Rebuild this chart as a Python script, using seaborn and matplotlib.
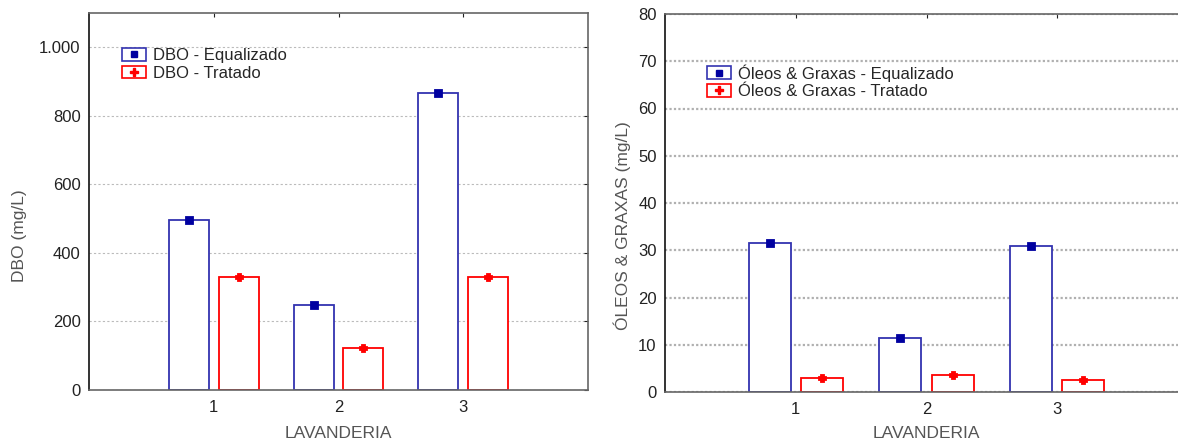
import matplotlib
matplotlib.use("Agg")
import matplotlib.pyplot as plt
from matplotlib.patches import Patch
from matplotlib.lines import Line2D
from matplotlib.ticker import FuncFormatter
import seaborn as sns
import pandas as pd

lavanderias = ["1", "2", "3"]
amostras = ["Equalizado", "Tratado"]
dbo_equalizado = [497, 247, 867]
dbo_tratado = [330, 124, 330]
og_equalizado = [31.5, 11.5, 31.0]
og_tratado = [3.0, 3.5, 2.5]

AZUL = "#3333b0"
AZUL_MARCA = "#0000a0"
VERMELHO = "#ff0000"
CINZA = "#555555"

sns.set_style("white")
plt.rcParams["font.family"] = ["Liberation Sans", "DejaVu Sans"]


def monta_df(eq, tr):
    return pd.DataFrame({
        "lav": lavanderias * 2,
        "valor": list(eq) + list(tr),
        "amostra": [amostras[0]] * 3 + [amostras[1]] * 3,
    })


def painel(ax, df, ylim, yticks, ylabel, rotulos, grid_kw, leg_pos, xpad,
           ylab_xy, fmt=None):
    ax.set_axisbelow(True)
    ax.yaxis.grid(True, **grid_kw)
    sns.barplot(data=df, x="lav", y="valor", hue="amostra", order=lavanderias,
                hue_order=amostras, palette=[AZUL, VERMELHO], fill=False,
                width=0.8, gap=0.2, linewidth=1.3, errorbar=None,
                legend=False, ax=ax)
    for p in ax.patches:
        p.set_facecolor("white")
        p.set_zorder(2)
    sns.pointplot(data=df, x="lav", y="valor", hue="amostra", order=lavanderias,
                  hue_order=amostras, palette=[AZUL_MARCA, VERMELHO],
                  markers=["s", "P"], markersize=5, linestyle="none",
                  dodge=0.4, errorbar=None, legend=False, ax=ax, zorder=4)
    ax.set_xlim(-1, 3)
    ax.set_ylim(*ylim)
    ax.set_yticks(yticks)
    if fmt:
        ax.yaxis.set_major_formatter(FuncFormatter(fmt))
    ax.set_xlabel("LAVANDERIA", color=CINZA, fontsize=12.5, labelpad=xpad)
    ax.set_ylabel(ylabel, color=CINZA, fontsize=12.5)
    ax.yaxis.set_label_coords(*ylab_xy)
    ax.tick_params(axis="both", direction="in", length=3, width=0.8,
                   top=True, right=True, labelsize=12, colors="#222222")
    ax.tick_params(axis="x", pad=7)
    ax.tick_params(axis="y", pad=6)
    for lado, s in ax.spines.items():
        s.set_visible(True)
        s.set_linewidth(1.2)
        s.set_color("#111111" if lado == "left" else "#666666")
        s.set_zorder(5)
    handles = [
        (Patch(facecolor="white", edgecolor=AZUL, linewidth=1.2),
         Line2D([], [], marker="s", color=AZUL_MARCA, linestyle="none", markersize=5)),
        (Patch(facecolor="white", edgecolor=VERMELHO, linewidth=1.2),
         Line2D([], [], marker="P", color=VERMELHO, linestyle="none", markersize=5.5)),
    ]
    ax.legend(handles, rotulos, loc="upper left", bbox_to_anchor=leg_pos,
              frameon=False, fontsize=12, handlelength=1.45, handleheight=0.8,
              handletextpad=0.4, labelspacing=0.15, borderaxespad=0)


fig = plt.figure(figsize=(11.78, 4.41), dpi=100)
ax1 = fig.add_axes([89 / 1178, 51 / 441, 499 / 1178, 377 / 441])
ax2 = fig.add_axes([665 / 1178, 49 / 441, 523 / 1178, 378 / 441])

painel(ax1, monta_df(dbo_equalizado, dbo_tratado), (0, 1100),
       range(0, 1001, 200), "DBO (mg/L)",
       ["DBO - Equalizado", "DBO - Tratado"],
       dict(color="#bbbbbb", linestyle=(0, (2, 2)), linewidth=0.8),
       (0.053, 0.925), xpad=8, ylab_xy=(-0.124, 0.41),
       fmt=lambda v, _: f"{v:,.0f}".replace(",", "."))

painel(ax2, monta_df(og_equalizado, og_tratado), (0, 80),
       range(0, 81, 10), "ÓLEOS & GRAXAS (mg/L)",
       ["Óleos & Graxas - Equalizado", "Óleos & Graxas - Tratado"],
       dict(color="#b0b0b0", linestyle=(0, (1, 1)), linewidth=1.6),
       (0.067, 0.885), xpad=7, ylab_xy=(-0.065, 0.44))

fig.savefig("out.png", dpi=100)
